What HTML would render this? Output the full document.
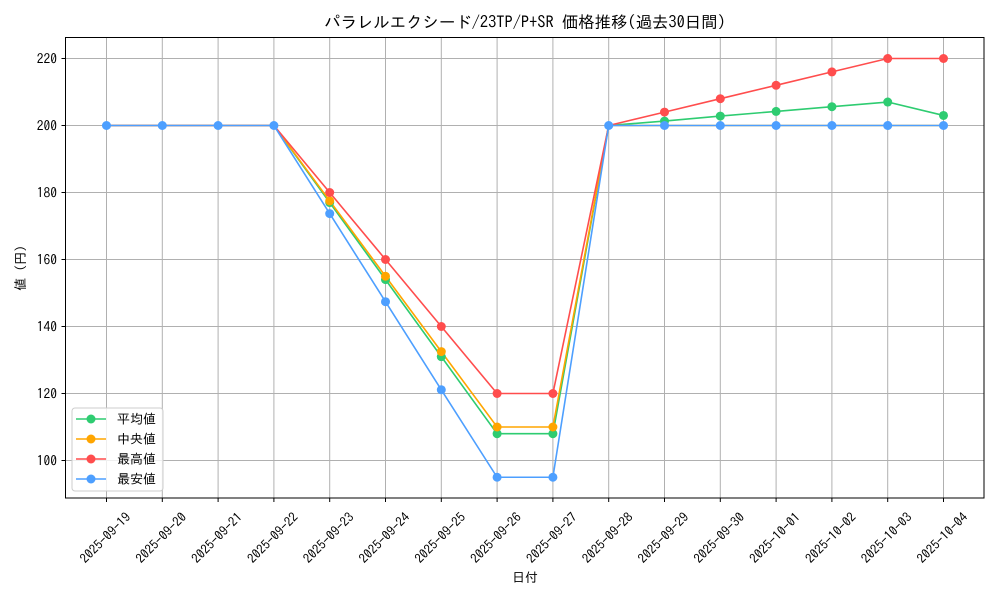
<!DOCTYPE html>
<html><head><meta charset="utf-8"><style>
body{margin:0;background:#fff}
svg{display:block;font-family:"IPAGothic","Liberation Sans","Noto Sans CJK JP",sans-serif}
</style></head><body>
<svg width="1000" height="600" xmlns="http://www.w3.org/2000/svg">
<rect width="1000" height="600" fill="#fff"/>
<g stroke="#b0b0b0" stroke-width="1">
<line x1="106.5" y1="37.5" x2="106.5" y2="498"/><line x1="162.3" y1="37.5" x2="162.3" y2="498"/><line x1="218.1" y1="37.5" x2="218.1" y2="498"/><line x1="273.9" y1="37.5" x2="273.9" y2="498"/><line x1="329.7" y1="37.5" x2="329.7" y2="498"/><line x1="385.5" y1="37.5" x2="385.5" y2="498"/><line x1="441.3" y1="37.5" x2="441.3" y2="498"/><line x1="497.1" y1="37.5" x2="497.1" y2="498"/><line x1="552.9" y1="37.5" x2="552.9" y2="498"/><line x1="608.7" y1="37.5" x2="608.7" y2="498"/><line x1="664.5" y1="37.5" x2="664.5" y2="498"/><line x1="720.3" y1="37.5" x2="720.3" y2="498"/><line x1="776.1" y1="37.5" x2="776.1" y2="498"/><line x1="831.9" y1="37.5" x2="831.9" y2="498"/><line x1="887.7" y1="37.5" x2="887.7" y2="498"/><line x1="943.5" y1="37.5" x2="943.5" y2="498"/>
<line x1="65.5" y1="460.5" x2="984" y2="460.5"/><line x1="65.5" y1="393.5" x2="984" y2="393.5"/><line x1="65.5" y1="326.5" x2="984" y2="326.5"/><line x1="65.5" y1="259.5" x2="984" y2="259.5"/><line x1="65.5" y1="192.5" x2="984" y2="192.5"/><line x1="65.5" y1="125.5" x2="984" y2="125.5"/><line x1="65.5" y1="58.5" x2="984" y2="58.5"/>
</g>
<g stroke="#000" stroke-width="1">
<line x1="106.5" y1="498" x2="106.5" y2="502"/><line x1="162.3" y1="498" x2="162.3" y2="502"/><line x1="218.1" y1="498" x2="218.1" y2="502"/><line x1="273.9" y1="498" x2="273.9" y2="502"/><line x1="329.7" y1="498" x2="329.7" y2="502"/><line x1="385.5" y1="498" x2="385.5" y2="502"/><line x1="441.3" y1="498" x2="441.3" y2="502"/><line x1="497.1" y1="498" x2="497.1" y2="502"/><line x1="552.9" y1="498" x2="552.9" y2="502"/><line x1="608.7" y1="498" x2="608.7" y2="502"/><line x1="664.5" y1="498" x2="664.5" y2="502"/><line x1="720.3" y1="498" x2="720.3" y2="502"/><line x1="776.1" y1="498" x2="776.1" y2="502"/><line x1="831.9" y1="498" x2="831.9" y2="502"/><line x1="887.7" y1="498" x2="887.7" y2="502"/><line x1="943.5" y1="498" x2="943.5" y2="502"/>
<line x1="61.5" y1="460.5" x2="65.5" y2="460.5"/><line x1="61.5" y1="393.5" x2="65.5" y2="393.5"/><line x1="61.5" y1="326.5" x2="65.5" y2="326.5"/><line x1="61.5" y1="259.5" x2="65.5" y2="259.5"/><line x1="61.5" y1="192.5" x2="65.5" y2="192.5"/><line x1="61.5" y1="125.5" x2="65.5" y2="125.5"/><line x1="61.5" y1="58.5" x2="65.5" y2="58.5"/>
</g>
<g font-size="13.5" fill="#000" text-anchor="end">
<text x="57" y="465.5">100</text><text x="57" y="398.5">120</text><text x="57" y="331.5">140</text><text x="57" y="264.5">160</text><text x="57" y="197.5">180</text><text x="57" y="130.5">200</text><text x="57" y="63.5">220</text>
</g>
<g font-size="13" fill="#000" text-anchor="end">
<text transform="translate(131.5,518) rotate(-45)">2025-09-19</text>
<text transform="translate(187.3,518) rotate(-45)">2025-09-20</text>
<text transform="translate(243.1,518) rotate(-45)">2025-09-21</text>
<text transform="translate(298.9,518) rotate(-45)">2025-09-22</text>
<text transform="translate(354.7,518) rotate(-45)">2025-09-23</text>
<text transform="translate(410.5,518) rotate(-45)">2025-09-24</text>
<text transform="translate(466.3,518) rotate(-45)">2025-09-25</text>
<text transform="translate(522.1,518) rotate(-45)">2025-09-26</text>
<text transform="translate(577.9,518) rotate(-45)">2025-09-27</text>
<text transform="translate(633.7,518) rotate(-45)">2025-09-28</text>
<text transform="translate(689.5,518) rotate(-45)">2025-09-29</text>
<text transform="translate(745.3,518) rotate(-45)">2025-09-30</text>
<text transform="translate(801.1,518) rotate(-45)">2025-10-01</text>
<text transform="translate(856.9,518) rotate(-45)">2025-10-02</text>
<text transform="translate(912.7,518) rotate(-45)">2025-10-03</text>
<text transform="translate(968.5,518) rotate(-45)">2025-10-04</text>
</g>
<text x="525" y="582" font-size="13" text-anchor="middle">日付</text>
<text transform="translate(25,268) rotate(-90)" font-size="13" text-anchor="middle">値 (円)</text>
<text x="525" y="28" font-size="16.4" text-anchor="middle">パラレルエクシード/23TP/P+SR 価格推移(過去30日間)</text>

<g fill="none" stroke-width="1.6">
<polyline stroke="#2ecc71" points="106.5,125.5 162.3,125.5 218.1,125.5 273.9,125.5 329.7,202.55 385.5,279.6 441.3,356.65 497.1,433.7 552.9,433.7 608.7,125.5 664.5,121.1 720.3,116.1 776.1,111.4 831.9,106.7 887.7,102.05 943.5,115.45"/>
<polyline stroke="#ffa500" points="106.5,125.5 162.3,125.5 218.1,125.5 273.9,125.5 329.7,200.9 385.5,276.25 441.3,351.6 497.1,427 552.9,427 608.7,125.5 664.5,125.5 720.3,125.5 776.1,125.5 831.9,125.5 887.7,125.5 943.5,125.5"/>
<polyline stroke="#ff4d4d" points="106.5,125.5 162.3,125.5 218.1,125.5 273.9,125.5 329.7,192.5 385.5,259.5 441.3,326.5 497.1,393.5 552.9,393.5 608.7,125.5 664.5,112.1 720.3,98.7 776.1,85.3 831.9,71.9 887.7,58.5 943.5,58.5"/>
<polyline stroke="#4d9fff" points="106.5,125.5 162.3,125.5 218.1,125.5 273.9,125.5 329.7,213.6 385.5,301.7 441.3,389.8 497.1,477.25 552.9,477.25 608.7,125.5 664.5,125.5 720.3,125.5 776.1,125.5 831.9,125.5 887.7,125.5 943.5,125.5"/>
</g>
<g fill="#2ecc71"><circle cx="329.7" cy="202.55" r="4.5"/><circle cx="385.5" cy="279.6" r="4.5"/><circle cx="441.3" cy="356.65" r="4.5"/><circle cx="497.1" cy="433.7" r="4.5"/><circle cx="552.9" cy="433.7" r="4.5"/><circle cx="664.5" cy="121.1" r="4.5"/><circle cx="720.3" cy="116.1" r="4.5"/><circle cx="776.1" cy="111.4" r="4.5"/><circle cx="831.9" cy="106.7" r="4.5"/><circle cx="887.7" cy="102.05" r="4.5"/><circle cx="943.5" cy="115.45" r="4.5"/></g>
<g fill="#ffa500"><circle cx="329.7" cy="200.9" r="4.5"/><circle cx="385.5" cy="276.25" r="4.5"/><circle cx="441.3" cy="351.6" r="4.5"/><circle cx="497.1" cy="427" r="4.5"/><circle cx="552.9" cy="427" r="4.5"/></g>
<g fill="#ff4d4d"><circle cx="329.7" cy="192.5" r="4.5"/><circle cx="385.5" cy="259.5" r="4.5"/><circle cx="441.3" cy="326.5" r="4.5"/><circle cx="497.1" cy="393.5" r="4.5"/><circle cx="552.9" cy="393.5" r="4.5"/><circle cx="664.5" cy="112.1" r="4.5"/><circle cx="720.3" cy="98.7" r="4.5"/><circle cx="776.1" cy="85.3" r="4.5"/><circle cx="831.9" cy="71.9" r="4.5"/><circle cx="887.7" cy="58.5" r="4.5"/><circle cx="943.5" cy="58.5" r="4.5"/></g>
<g fill="#4d9fff"><circle cx="106.5" cy="125.5" r="4.5"/><circle cx="162.3" cy="125.5" r="4.5"/><circle cx="218.1" cy="125.5" r="4.5"/><circle cx="273.9" cy="125.5" r="4.5"/><circle cx="329.7" cy="213.6" r="4.5"/><circle cx="385.5" cy="301.7" r="4.5"/><circle cx="441.3" cy="389.8" r="4.5"/><circle cx="497.1" cy="477.25" r="4.5"/><circle cx="552.9" cy="477.25" r="4.5"/><circle cx="608.7" cy="125.5" r="4.5"/><circle cx="664.5" cy="125.5" r="4.5"/><circle cx="720.3" cy="125.5" r="4.5"/><circle cx="776.1" cy="125.5" r="4.5"/><circle cx="831.9" cy="125.5" r="4.5"/><circle cx="887.7" cy="125.5" r="4.5"/><circle cx="943.5" cy="125.5" r="4.5"/></g>

<rect x="65.5" y="37.5" width="918.5" height="460.5" fill="none" stroke="#000" stroke-width="1"/>

<rect x="72" y="408" width="91" height="83" rx="3" fill="#fff" fill-opacity="0.8" stroke="#ccc"/>
<g stroke-width="1.6">
<line x1="76" y1="419" x2="106" y2="419" stroke="#2ecc71"/><circle cx="91" cy="419" r="4.5" fill="#2ecc71"/>
<line x1="76" y1="439" x2="106" y2="439" stroke="#ffa500"/><circle cx="91" cy="439" r="4.5" fill="#ffa500"/>
<line x1="76" y1="459" x2="106" y2="459" stroke="#ff4d4d"/><circle cx="91" cy="459" r="4.5" fill="#ff4d4d"/>
<line x1="76" y1="479" x2="106" y2="479" stroke="#4d9fff"/><circle cx="91" cy="479" r="4.5" fill="#4d9fff"/>
</g>
<g font-size="13" fill="#000">
<text x="117" y="423.5">平均値</text><text x="117" y="443.5">中央値</text><text x="117" y="463.5">最高値</text><text x="117" y="483.5">最安値</text>
</g>
</svg>
</body></html>
